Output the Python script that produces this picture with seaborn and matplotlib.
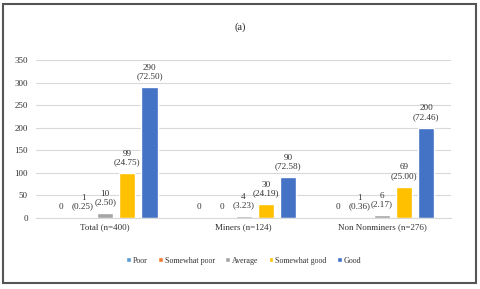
import matplotlib
matplotlib.use("Agg")
import matplotlib.pyplot as plt
import seaborn as sns
import pandas as pd
from matplotlib.patches import Rectangle

categories = ["Total (n=400)", "Miners (n=124)", "Non Nonminers (n=276)"]
ratings = ["Poor", "Somewhat poor", "Average", "Somewhat good", "Good"]
poor = [0, 0, 0]
somewhat_poor = [1, 0, 1]
average = [10, 4, 6]
somewhat_good = [99, 30, 69]
good = [290, 90, 200]
pct_poor = [None, None, None]
pct_somewhat_poor = ["0.25", None, "0.36"]
pct_average = ["2.50", "3.23", "2.17"]
pct_somewhat_good = ["24.75", "24.19", "25.00"]
pct_good = ["72.50", "72.58", "72.46"]
colors = ["#5B9BD5", "#ED7D31", "#A5A5A5", "#FFC000", "#4472C4"]

series = [poor, somewhat_poor, average, somewhat_good, good]
pcts = [pct_poor, pct_somewhat_poor, pct_average, pct_somewhat_good, pct_good]
rows = []
for r, vals in zip(ratings, series):
    for c, v in zip(categories, vals):
        rows.append({"Category": c, "Rating": r, "Count": v})
df = pd.DataFrame(rows)

sns.set_style("white")
plt.rcParams["font.family"] = ["Liberation Serif", "DejaVu Serif"]

fig = plt.figure(figsize=(4.8, 2.89), dpi=100)
ax = fig.add_axes([0.075, 0.246, 0.865, 0.546])
sns.barplot(data=df, x="Category", y="Count", hue="Rating", order=categories,
            hue_order=ratings, palette=colors, width=0.8, gap=0.27,
            saturation=1, ax=ax, legend=True)

for cont, vals, pc in zip(ax.containers, series, pcts):
    labels = []
    for v, p in zip(vals, pc):
        if p is None:
            labels.append(f"{v}")
        else:
            labels.append(f"{v}\n({p})")
    ax.bar_label(cont, labels=labels, padding=5, fontsize=6.6, linespacing=1.1,
                 color="#333333")

ax.set_ylim(0, 350)
ax.set_yticks(range(0, 351, 50))
ax.yaxis.grid(True, color="#D9D9D9", linewidth=0.8)
ax.set_axisbelow(True)
for s in ["top", "right", "left"]:
    ax.spines[s].set_visible(False)
ax.spines["bottom"].set_color("#D9D9D9")
ax.tick_params(axis="y", length=0, labelsize=6.5, colors="#333333", pad=6)
ax.tick_params(axis="x", length=0, labelsize=6.5, colors="#333333", pad=4)
ax.set_xlabel("")
ax.set_ylabel("")

leg = ax.legend(loc="upper center", bbox_to_anchor=(0.5, -0.2), ncol=5,
                frameon=False, fontsize=5.8, handlelength=0.6, handleheight=0.6,
                handletextpad=0.2, columnspacing=1.3, labelcolor="#333333")

fig.text(0.5, 0.905, "(a)", ha="center", va="center", fontsize=7.5, color="#222222")

fig.patches.append(Rectangle((0.006, 0.02), 0.985, 0.967, transform=fig.transFigure,
                             fill=False, edgecolor="#555555", linewidth=1.5))

fig.savefig("out.png", dpi=100)
